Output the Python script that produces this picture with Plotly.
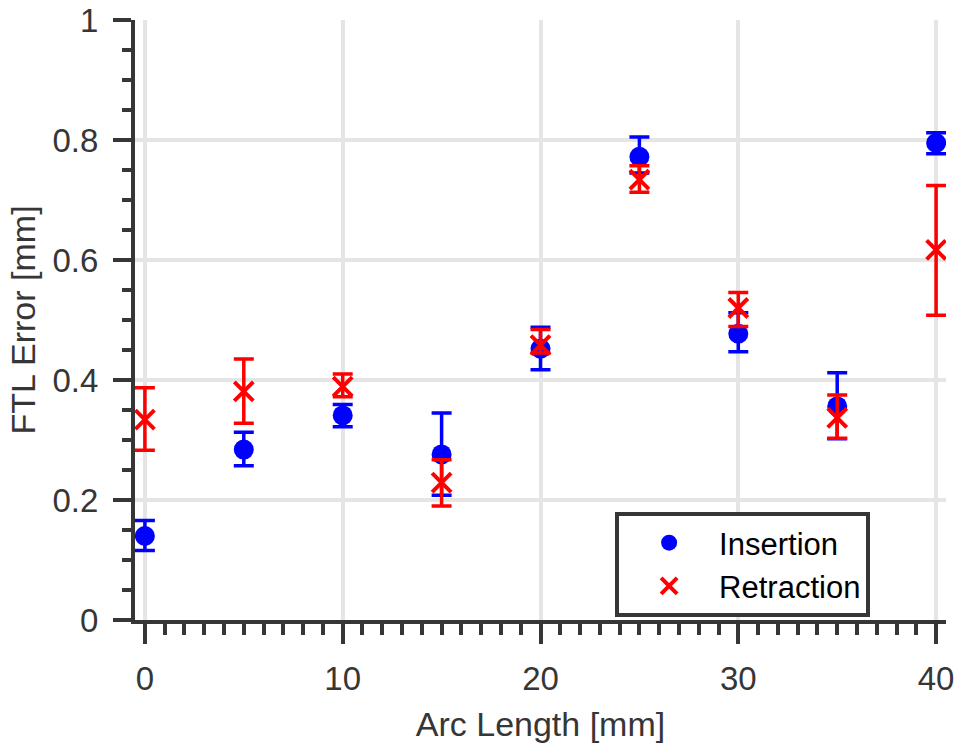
import plotly.graph_objects as go

arc_length = [0, 5, 10, 15, 20, 25, 30, 35, 40]

ins_mean = [0.140, 0.284, 0.341, 0.276, 0.452, 0.772, 0.477, 0.356, 0.795]
ins_plus = [0.026, 0.029, 0.018, 0.069, 0.036, 0.033, 0.035, 0.056, 0.017]
ins_minus = [0.024, 0.027, 0.019, 0.068, 0.035, 0.027, 0.030, 0.054, 0.018]

ret_mean = [0.334, 0.381, 0.389, 0.229, 0.458, 0.734, 0.520, 0.337, 0.617]
ret_plus = [0.053, 0.054, 0.021, 0.038, 0.026, 0.023, 0.026, 0.038, 0.107]
ret_minus = [0.051, 0.053, 0.017, 0.039, 0.013, 0.021, 0.031, 0.034, 0.109]

x_ticks = [0, 10, 20, 30, 40]
y_ticks = [0, 0.2, 0.4, 0.6, 0.8, 1.0]
y_ticklabels = ["0", "0.2", "0.4", "0.6", "0.8", "1"]

FONT = "Liberation Sans, Arial, Helvetica, sans-serif"
AX = "#363636"

fig = go.Figure()
fig.add_trace(go.Scatter(
    x=arc_length, y=ins_mean, mode="markers", name="Insertion",
    marker=dict(symbol="circle", size=20, color="#0000ff"),
    error_y=dict(type="data", symmetric=False, array=ins_plus, arrayminus=ins_minus,
                 color="#0000ff", thickness=3.5, width=10),
))
fig.add_trace(go.Scatter(
    x=arc_length, y=ret_mean, mode="markers", name="Retraction",
    marker=dict(symbol="x-thin", size=19, color="#ff0000",
                line=dict(color="#ff0000", width=4)),
    error_y=dict(type="data", symmetric=False, array=ret_plus, arrayminus=ret_minus,
                 color="#ff0000", thickness=3.5, width=10),
))

fig.update_layout(
    width=958, height=744,
    margin=dict(l=135, r=12, t=20, b=124),
    paper_bgcolor="white", plot_bgcolor="white",
    font=dict(family=FONT, size=33, color=AX),
    showlegend=True,
    legend=dict(
        x=0.592, y=0.180, xanchor="left", yanchor="top",
        bgcolor="white", bordercolor=AX, borderwidth=4,
        font=dict(family=FONT, size=31, color="#000000"),
        itemwidth=90, tracegroupgap=0,
    ),
)

fig.update_xaxes(
    range=[-0.5, 40.5], tickmode="array", tickvals=x_ticks,
    automargin=False,
    showline=True, linecolor=AX, linewidth=4,
    ticks="outside", ticklen=20, tickwidth=4, tickcolor=AX,
    ticklabelstandoff=6,
    showgrid=True, gridcolor="#e5e5e5", gridwidth=4,
    zeroline=False, mirror=False,
    tickfont=dict(family=FONT, size=33, color=AX),
    minor=dict(dtick=1, ticks="outside", ticklen=11, tickwidth=4, tickcolor=AX, showgrid=False),
    title=dict(text="Arc Length [mm]", font=dict(family=FONT, size=34, color=AX), standoff=18),
)
fig.update_yaxes(
    range=[0, 1], tickmode="array", tickvals=y_ticks, ticktext=y_ticklabels,
    automargin=False,
    showline=True, linecolor=AX, linewidth=4,
    ticks="outside", ticklen=18, tickwidth=4, tickcolor=AX,
    ticklabelstandoff=8,
    showgrid=True, gridcolor="#e5e5e5", gridwidth=4,
    zeroline=False, mirror=False,
    tickfont=dict(family=FONT, size=33, color=AX),
    minor=dict(dtick=0.05, tick0=0, ticks="outside", ticklen=9, tickwidth=4, tickcolor=AX, showgrid=False),
    title=dict(text="FTL Error [mm]", font=dict(family=FONT, size=34, color=AX), standoff=8),
)

fig.write_html("out.html")
